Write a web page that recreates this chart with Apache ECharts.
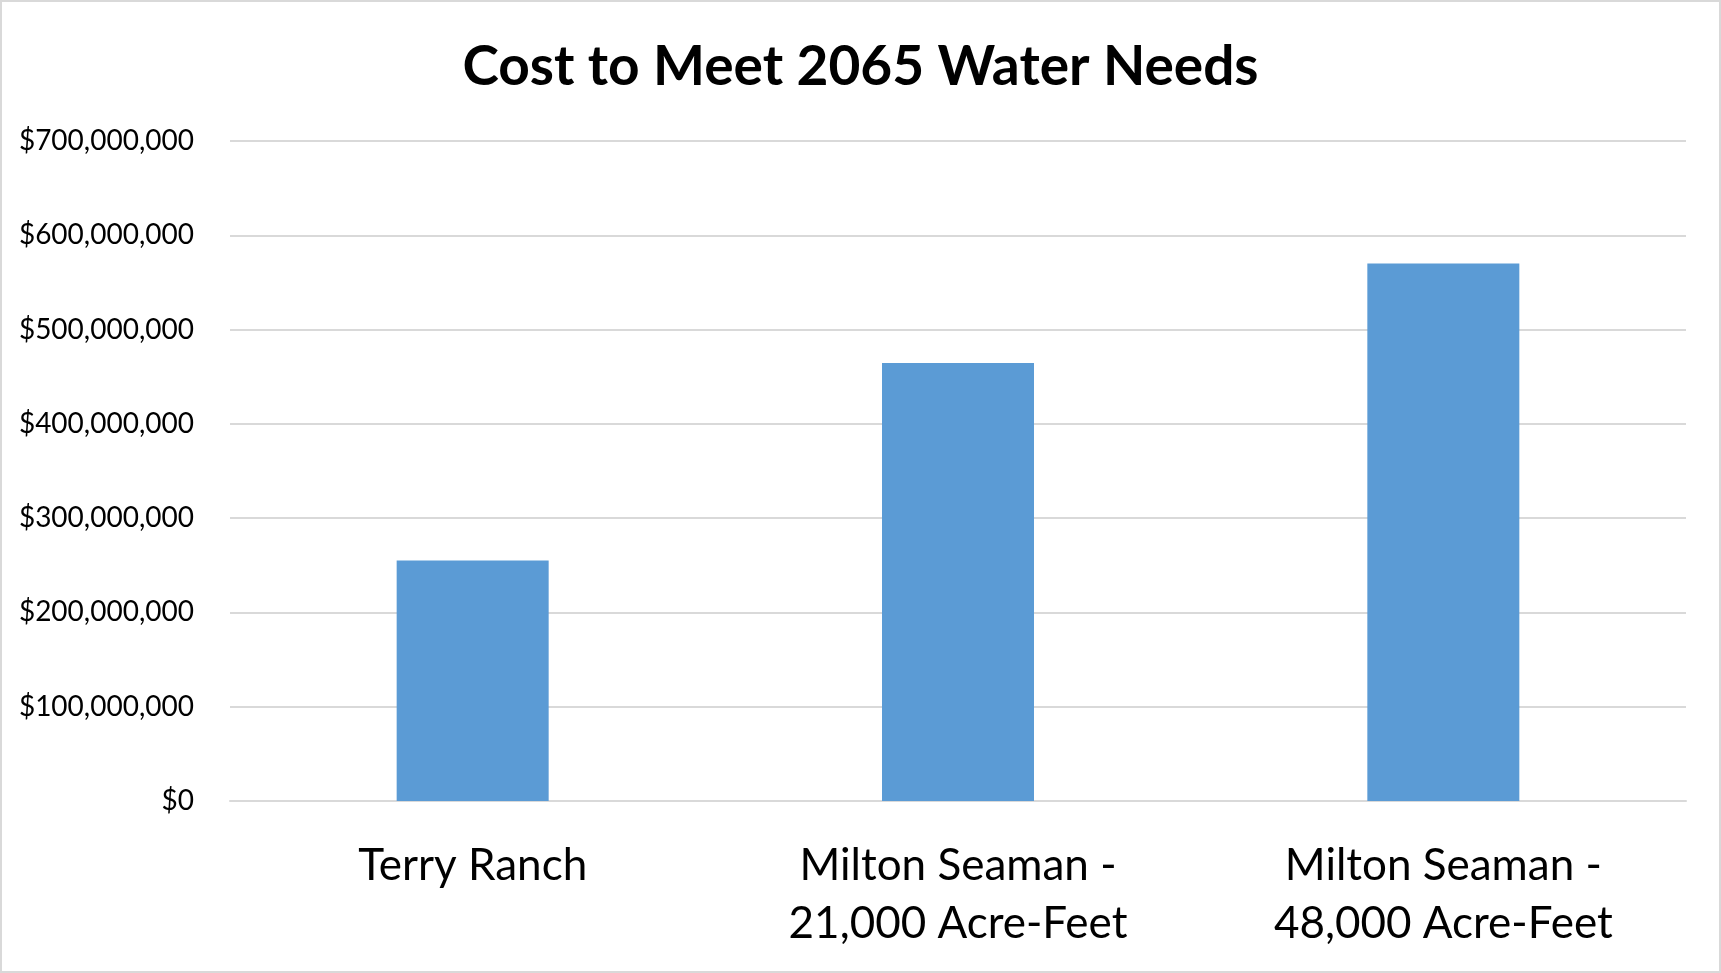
<!DOCTYPE html>
<html>
<head>
<meta charset="utf-8">
<script src="https://cdn.jsdelivr.net/npm/echarts@6/dist/echarts.min.js"></script>
<style>
  html, body { margin: 0; padding: 0; background: #fff; }
  #chart { width: 1717px; height: 969px; border: 2px solid #d9d9d9; }
</style>
</head>
<body>
<div id="chart"></div>
<script>
const categories = ["Terry Ranch", "Milton Seaman -\n21,000 Acre-Feet", "Milton Seaman -\n48,000 Acre-Feet"]
const costs = [255000000, 464500000, 570000000]
const yTicks = [0, 700000000, 100000000] // min, max, step

let myChart = echarts.init(document.getElementById("chart"))

myChart.setOption({
  title: {
    text: "Cost to Meet 2065 Water Needs",
    left: "center",
    top: 33,
    textStyle: {
      fontFamily: "Lato",
      fontWeight: "bold",
      fontSize: 55,
      color: "#000",
    },
  },
  grid: {
    left: 228,
    right: 33,
    top: 139,
    bottom: 170,
  },
  xAxis: {
    type: "category",
    data: categories,
    axisLine: { lineStyle: { color: "#d9d9d9", width: 2 } },
    axisTick: { show: false },
    axisLabel: {
      fontFamily: "Lato",
      fontSize: 44,
      color: "#000",
      lineHeight: 58,
      margin: 36,
    },
  },
  yAxis: {
    type: "value",
    min: yTicks[0],
    max: yTicks[1],
    interval: yTicks[2],
    axisLine: { show: false },
    axisTick: { show: false },
    splitLine: { lineStyle: { color: "#d9d9d9", width: 2 } },
    axisLabel: {
      fontFamily: "Lato",
      fontSize: 28,
      color: "#000",
      margin: 36,
      formatter: (value) => "$" + value.toLocaleString("en-US"),
    },
  },
  series: [
    {
      type: "bar",
      data: costs,
      barWidth: 152,
      itemStyle: { color: "#5b9bd5" },
    },
  ],
})
</script>
</body>
</html>
